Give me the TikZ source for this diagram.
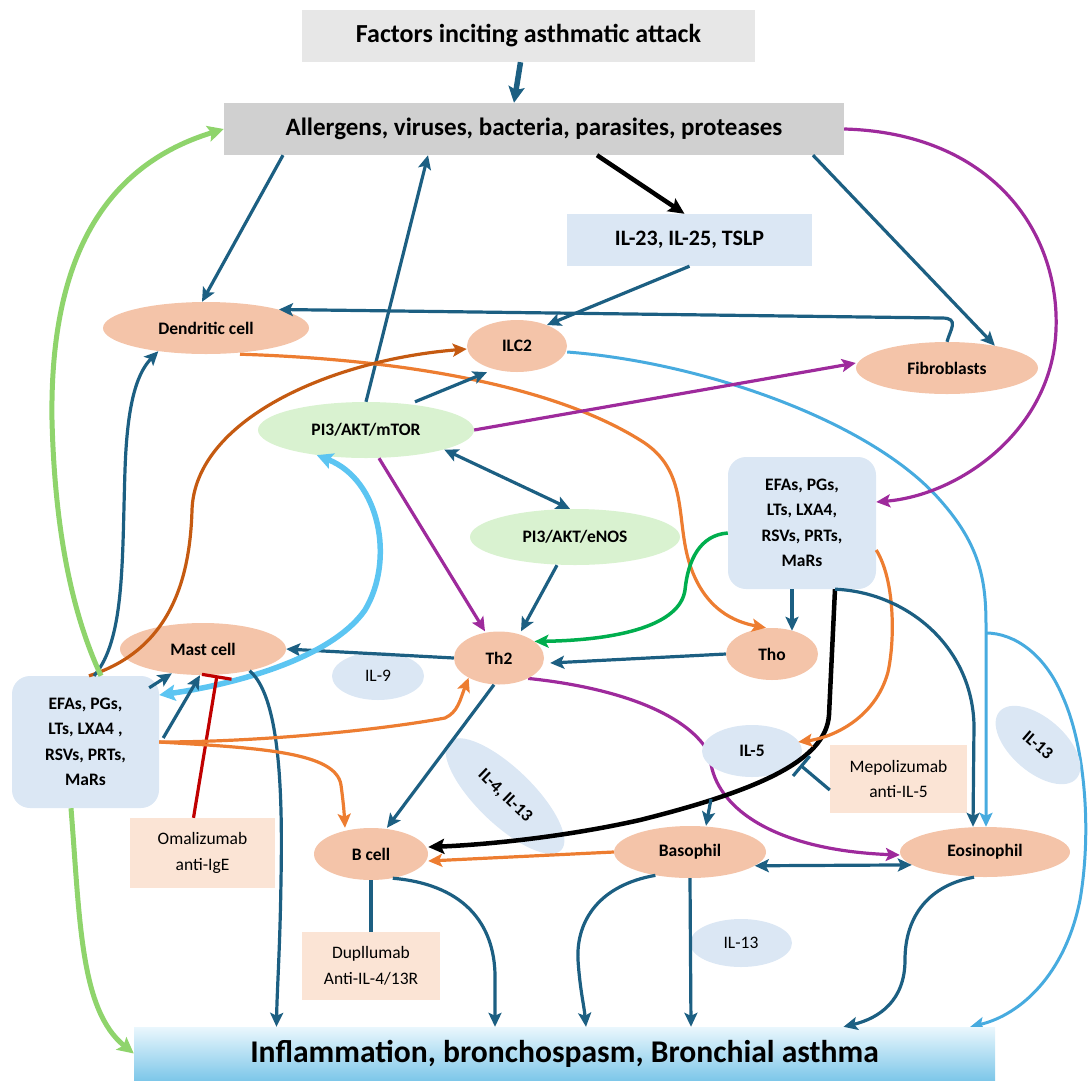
\documentclass[tikz,border=0pt]{standalone}
\usepackage{fontspec}
\setmainfont{Carlito}
\usetikzlibrary{shapes.geometric,arrows.meta}
\definecolor{tl}{HTML}{1C5F82}
\definecolor{pur}{HTML}{9E2A9C}
\definecolor{org}{HTML}{ED7D31}
\definecolor{dorg}{HTML}{C55A11}
\definecolor{lbl}{HTML}{47ABDF}
\definecolor{lbt}{HTML}{5CC5F2}
\definecolor{lgr}{HTML}{8FD46C}
\definecolor{grn}{HTML}{00AE4E}
\definecolor{redc}{HTML}{C00000}
\definecolor{peach}{HTML}{F4C4A9}
\definecolor{lpeach}{HTML}{FBE4D5}
\definecolor{lblue}{HTML}{DBE7F4}
\definecolor{lgreen}{HTML}{D9F2D0}
\definecolor{gfac}{HTML}{E7E7E7}
\definecolor{gall}{HTML}{D0D0D0}
\definecolor{infT}{HTML}{EAF7FD}
\definecolor{infB}{HTML}{7EC7E9}
\pgfdeclarelayer{bg}
\pgfsetlayers{bg,main}
\tikzset{
  cell/.style={ellipse, fill=peach, inner sep=0pt, font=\bfseries\fontsize{17.5}{21}\selectfont},
  pathw/.style={ellipse, fill=lgreen, inner sep=0pt, font=\bfseries\fontsize{17.5}{21}\selectfont},
  cyto/.style={ellipse, fill=lblue, inner sep=0pt, font=\fontsize{17.5}{21}\selectfont},
  cytob/.style={ellipse, fill=lblue, inner sep=0pt, font=\bfseries\fontsize{17.5}{21}\selectfont},
  med/.style={rectangle, rounded corners=18pt, fill=lblue, inner sep=0pt, align=center, font=\bfseries\fontsize{17.5}{25.5}\selectfont},
  drug/.style={rectangle, fill=lpeach, inner sep=0pt, align=center, font=\fontsize{17.5}{25.5}\selectfont},
  hd/.style={-{Stealth[length=14pt,width=13pt,inset=3pt]}},
  dhd/.style={{Stealth[length=14pt,width=13pt,inset=3pt]}-{Stealth[length=14pt,width=13pt,inset=3pt]}},
  tlc/.style={line width=3.2pt, draw=tl, hd},
  tldc/.style={line width=3.2pt, draw=tl, dhd},
  pc/.style={line width=3.2pt, draw=pur, hd},
  oc/.style={line width=3.2pt, draw=org, hd},
  doc/.style={line width=3.2pt, draw=dorg, hd},
  lbc/.style={line width=3pt, draw=lbl, hd},
  lbtc/.style={line width=5.5pt, draw=lbt, {Stealth[length=16pt,width=16pt,inset=3pt]}-{Stealth[length=16pt,width=16pt,inset=3pt]}},
  lgc/.style={line width=5pt, draw=lgr, -{Stealth[length=16pt,width=16pt,inset=3pt]}},
  gc/.style={line width=3.5pt, draw=grn, hd},
  bkc/.style={line width=4.5pt, draw=black, -{Stealth[length=16pt,width=15pt,inset=3pt]}},
}
\begin{document}
\begin{tikzpicture}[x=1pt,y=-1pt]
\useasboundingbox (0,0) rectangle (1090,1080);

% ---------- nodes ----------
\node[fill=gfac, inner sep=0pt, minimum width=453pt, minimum height=52pt, font=\bfseries\fontsize{26}{30}\selectfont] (fac) at (528.5,36) {Factors inciting asthmatic attack};
\node[fill=gall, inner sep=0pt, minimum width=620pt, minimum height=52pt, font=\bfseries\fontsize{25}{30}\selectfont] (all) at (534,129) {Allergens, viruses, bacteria, parasites, proteases};
\node[fill=lblue, inner sep=0pt, minimum width=245pt, minimum height=52pt, font=\bfseries\fontsize{22}{26}\selectfont] (il23) at (689.5,240) {IL-23, IL-25, TSLP};
\node[cell, minimum width=206pt, minimum height=52pt] (dend) at (206,328) {Dendritic cell};
\node[cell, minimum width=100pt, minimum height=52pt] (ilc2) at (517,346) {ILC2};
\node[cell, minimum width=182pt, minimum height=52pt] (fib) at (947,368) {Fibroblasts};
\node[pathw, minimum width=216pt, minimum height=56pt] (mtor) at (366,430) {PI3/AKT/mTOR};
\node[pathw, minimum width=210pt, minimum height=56pt] (enos) at (575,537) {PI3/AKT/eNOS};
\node[med, minimum width=148pt, minimum height=132pt] (efaR) at (802,523) {EFAs, PGs,\\LTs, LXA4,\\RSVs, PRTs,\\MaRs};
\node[med, minimum width=147pt, minimum height=132pt] (efaL) at (85.5,742) {EFAs, PGs,\\LTs, LXA4 ,\\RSVs, PRTs,\\MaRs};
\node[cell, minimum width=166pt, minimum height=52pt] (mast) at (203,649) {Mast cell};
\node[cyto, minimum width=92pt, minimum height=48pt] (il9) at (378,676) {IL-9};
\node[cell, minimum width=90pt, minimum height=53pt] (th2) at (499,658) {Th2};
\node[cell, minimum width=92pt, minimum height=52pt] (tho) at (772,654) {Tho};
\node[cytob, minimum width=100pt, minimum height=52pt] (il5) at (752,751) {IL-5};
\node[cytob, minimum width=156pt, minimum height=56pt, rotate=-44] (il413) at (505,796) {IL-4, IL-13};
\node[cytob, minimum width=102pt, minimum height=54pt, rotate=-41] (il13r) at (1038,745) {IL-13};
\node[drug, minimum width=137pt, minimum height=68pt] (mepo) at (898.5,779) {Mepolizumab\\anti-IL-5};
\node[drug, minimum width=145pt, minimum height=70pt] (omal) at (202.5,853) {Omalizumab\\anti-IgE};
\node[cell, minimum width=114pt, minimum height=52pt] (bcell) at (371,854) {B cell};
\node[cell, minimum width=152pt, minimum height=52pt] (baso) at (690,852) {Basophil};
\node[cell, minimum width=170pt, minimum height=50pt] (eos) at (985,852) {Eosinophil};
\node[cyto, minimum width=102pt, minimum height=48pt] (il13s) at (741,943) {IL-13};
\node[drug, minimum width=138pt, minimum height=68pt] (dupi) at (371,966) {Dupllumab\\Anti-IL-4/13R};
\node[top color=infT, bottom color=infB, inner sep=0pt, minimum width=861pt, minimum height=53pt, font=\bfseries\fontsize{31.6}{36}\selectfont] (infl) at (564.5,1053.5) {Inflammation, bronchospasm, Bronchial asthma};

% ---------- connectors behind nodes ----------
\begin{pgfonlayer}{bg}
\draw[pc] (th2.325) .. controls (620,688) and (690,715) .. (710,755) .. controls (712,805) and (770,850) .. ([yshift=-3pt]eos.west);
\coordinate (br) at (986,633);
\draw[lbc] (br) .. controls (1015,633) and (1045,655) .. (1062,695) .. controls (1085,745) and (1092,830) .. (1080,900) .. controls (1065,975) and (1020,1015) .. ([xshift=-25pt]infl.north east);
\draw[lbc] ([yshift=-6pt]ilc2.east) .. controls (700,362) and (870,420) .. (940,500) .. controls (980,545) and (986,580) .. (986,625) -- ([xshift=1pt]eos.north);
\end{pgfonlayer}

% ---------- connectors ----------
\draw[line width=5.5pt, draw=tl, -{Stealth[length=16pt,width=16pt,inset=3pt]}] ([xshift=-8pt]fac.south) -- ([xshift=-20pt]all.north);
\draw[bkc] ([xshift=63pt]all.south) -- ([xshift=-5pt]il23.north);
\draw[tlc] ([xshift=-251pt]all.south) -- ([xshift=-4pt]dend.north);
\draw[tlc] (mtor.north) -- ([xshift=-106pt]all.south);
\draw[tlc] ([xshift=279pt]all.south) -- (fib.25);
\draw[pc] (all.east) .. controls (990,133) and (1060,230) .. (1056,330) .. controls (1052,430) and (960,495) .. ([yshift=21pt]efaR.east);
\draw[tlc] (il23.south) -- (ilc2.35);
\draw[tlc] (fib.north) .. controls (950,330) and (960,318) .. (942,318) -- (dend.north east);
\draw[oc] ([xshift=34pt]dend.south) .. controls (420,360) and (560,390) .. (640,440) .. controls (690,470) and (675,520) .. (690,565) .. controls (705,610) and (735,622) .. ([xshift=-6pt]tho.north);
\draw[doc] ([xshift=3.5pt]efaL.north) .. controls (170,650) and (190,580) .. (192,510) .. controls (195,420) and (330,360) .. ([yshift=-3pt]ilc2.west);
\draw[tlc] ([xshift=8.5pt]efaL.north) .. controls (125,640) and (122,560) .. (125,470) .. controls (127,410) and (135,375) .. (dend.206);
\draw[lgc] ([xshift=15.5pt]efaL.north) .. controls (75,620) and (55,540) .. (52,420) .. controls (50,280) and (90,170) .. (all.west);
\draw[lgc] ([xshift=-14.5pt]efaL.south) .. controls (80,920) and (80,1010) .. (infl.west);
\draw[tlc] ([xshift=49pt]mtor.north) -- ([xshift=-30pt]ilc2.south);
\draw[pc] (mtor.east) -- ([yshift=5pt]fib.west);
\draw[tldc] (mtor.346) -- ([xshift=-5pt]enos.north);
\draw[pc] ([xshift=13pt]mtor.south) -- ([xshift=-14pt]th2.north);
\draw[tlc] ([xshift=-18pt]enos.south) -- ([xshift=22pt]th2.north);
\draw[gc] ([yshift=-10pt]efaR.west) .. controls (700,535) and (688,560) .. (685,590) .. controls (680,625) and (620,640) .. (th2.25);
\draw[tlc] ([xshift=-10pt]efaR.south) -- ([xshift=20pt,yshift=-3pt]tho.north);
\draw[tlc] (tho.west) -- ([xshift=6pt,yshift=-5pt]th2.east);
\draw[tlc] (th2.west) -- (mast.east);
\draw[lbtc] ([yshift=47pt]efaL.east) .. controls (230,685) and (330,660) .. (365,610) .. controls (395,560) and (380,480) .. (mtor.207);
\draw[tlc] ([xshift=-10pt,yshift=-12pt]efaL.north east) -- (mast.218);
\draw[tlc] ([xshift=4pt,yshift=4pt]efaL.east) -- ([xshift=-3pt]mast.south);
\draw[line width=3.2pt, draw=redc, -{Bar[width=30pt]}] ([xshift=-9pt]omal.north) -- ([xshift=14pt]mast.south);
\draw[tlc] (mast.335) .. controls (278,695) and (283,780) .. (281,880) .. controls (280,950) and (277,990) .. ([xshift=-288pt]infl.north);
\draw[tlc] ([xshift=-5pt]th2.south) -- ([xshift=16pt]bcell.north);
\draw[oc] (efaL.east) .. controls (260,742) and (380,730) .. (445,718) .. controls (458,712) and (460,700) .. (th2.213);
\draw[oc] (efaL.east) .. controls (260,748) and (336,752) .. (341,785) .. controls (343,800) and (344,810) .. ([xshift=-26pt]bcell.north);
\draw[oc] (baso.west) -- ([yshift=-7pt]bcell.east);
\draw[bkc] ([xshift=33pt]efaR.south) -- (829,715) .. controls (826,760) and (760,790) .. (640,820) .. controls (560,838) and (480,845) .. ([yshift=7pt]bcell.east);
\draw[oc] ([yshift=-27pt]efaR.east) .. controls (895,580) and (895,640) .. (888,672) .. controls (875,720) and (830,738) .. ([xshift=-4pt,yshift=9pt]il5.east);
\draw[tlc] ([xshift=33pt]efaR.south) .. controls (905,592) and (972,645) .. (974,725) -- ([xshift=-12pt]eos.north);
\coordinate (bk) at (711,799);
\draw[tlc] (bk) -- ([xshift=16pt]baso.north);
\draw[line width=3.2pt, draw=tl, -{Bar[width=26pt]}] ([yshift=-11pt]mepo.west) -- ([xshift=-2pt,yshift=-14pt]il5.east);
\draw[tldc] (baso.348) -- (eos.190);
\draw[tlc] (bcell.312) .. controls (470,885) and (496,930) .. (495,980) -- ([xshift=-69.5pt]infl.north);
\draw[line width=3.2pt, draw=tl] (bcell.south) -- (dupi.north);
\draw[tlc] (baso.214) .. controls (600,885) and (576,920) .. (578,960) .. controls (580,990) and (584,1005) .. ([xshift=21.5pt]infl.north);
\draw[tlc] (baso.south) -- ([xshift=126.5pt]infl.north);
\draw[tlc] ([xshift=-11pt]eos.south) .. controls (930,885) and (905,915) .. (905,960) .. controls (905,1000) and (880,1018) .. ([xshift=279pt]infl.north);
\end{tikzpicture}
\end{document}
